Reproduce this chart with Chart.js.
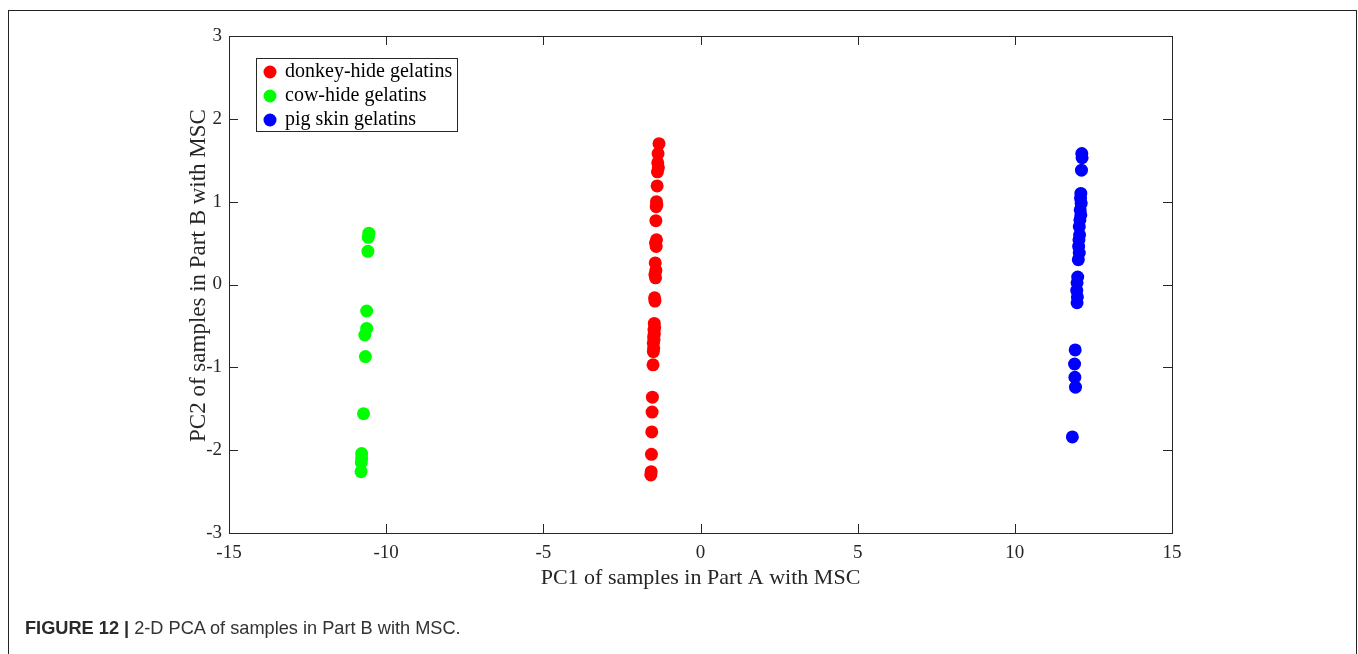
<!DOCTYPE html>
<html>
<head>
<meta charset="utf-8">
<script src="https://cdn.jsdelivr.net/npm/chart.js@4.4.0/dist/chart.umd.min.js"></script>
<style>
    body { margin: 0; background: #fff; }
    #wrap { position: relative; width: 1358px; height: 654px; overflow: hidden; }
    #frame {
        position: absolute; left: 8px; top: 10px; width: 1349px; height: 700px;
        border: 1px solid #222; border-bottom: none; box-sizing: border-box;
        pointer-events: none;
    }
    #caption {
        position: absolute; left: 25px; top: 618px;
        font-family: "Liberation Sans", Arial, sans-serif; font-size: 18.2px; color: #333;
        white-space: nowrap;
    }
    #caption b { color: #2a2a2a; }
    canvas { position: absolute; left: 0; top: 0; }
</style>
</head>
<body>
<div id="wrap">
    <canvas id="grafico" width="1358" height="654"></canvas>
    <div id="frame"></div>
    <div id="caption"><b>FIGURE 12 |</b> 2-D PCA of samples in Part B with MSC.</div>
</div>
<script>
// datos
const etiquetas = ['donkey-hide gelatins', 'cow-hide gelatins', 'pig skin gelatins']
const colores = ['#ff0000', '#00ff00', '#0000ff']

const burroX = [-1.32, -1.35, -1.36, -1.34, -1.37, -1.38, -1.40, -1.39, -1.41, -1.42, -1.40, -1.43, -1.41, -1.44, -1.42, -1.45, -1.43, -1.46, -1.45, -1.47, -1.46, -1.48, -1.47, -1.49, -1.48, -1.50, -1.49, -1.50, -1.51, -1.53, -1.54, -1.55, -1.56, -1.57, -1.58]
const burroY = [1.70, 1.58, 1.47, 1.41, 1.36, 1.19, 1.00, 0.96, 0.94, 0.77, 0.54, 0.50, 0.46, 0.26, 0.17, 0.12, 0.08, -0.16, -0.20, -0.47, -0.52, -0.55, -0.60, -0.63, -0.67, -0.71, -0.77, -0.81, -0.97, -1.36, -1.54, -1.78, -2.05, -2.26, -2.30]

const vacaX = [-10.55, -10.57, -10.58, -10.62, -10.62, -10.68, -10.66, -10.72, -10.78, -10.78, -10.79, -10.80]
const vacaY = [0.62, 0.57, 0.40, -0.32, -0.53, -0.61, -0.87, -1.56, -2.04, -2.10, -2.15, -2.26]

const cerdoX = [12.13, 12.14, 12.12, 12.10, 12.09, 12.11, 12.08, 12.10, 12.07, 12.05, 12.06, 12.04, 12.03, 12.05, 12.02, 12.00, 11.98, 11.97, 11.99, 11.98, 11.92, 11.90, 11.91, 11.93, 11.83]
const cerdoY = [1.58, 1.53, 1.38, 1.10, 1.04, 0.98, 0.90, 0.84, 0.78, 0.70, 0.60, 0.54, 0.46, 0.38, 0.30, 0.09, 0.02, -0.07, -0.15, -0.22, -0.79, -0.96, -1.12, -1.24, -1.84]

const ticksX = [-15, -10, -5, 0, 5, 10, 15]
const ticksY = [-3, -2, -1, 0, 1, 2, 3]
const tituloY = 'PC2 of samples in Part B with MSC'

const juntar = (xs, ys) => xs.map((x, i) => ({ x: x, y: ys[i] }))

const serie = [juntar(burroX, burroY), juntar(vacaX, vacaY), juntar(cerdoX, cerdoY)]

const colorEje = '#262626'
const fuente = "'Liberation Serif', 'Times New Roman', serif"

// caja, marcas hacia dentro, titulo y y leyenda al estilo matlab
const cajaMatlab = {
    id: 'cajaMatlab',
    afterDatasetsDraw(chart) {
        const { ctx, chartArea: a, scales } = chart
        ctx.save()
        ctx.strokeStyle = colorEje
        ctx.lineWidth = 1
        ctx.strokeRect(a.left + 0.5, a.top + 0.5, a.right - a.left, a.bottom - a.top)
        ctx.beginPath()
        ticksX.forEach(v => {
            let px = Math.round(scales.x.getPixelForValue(v)) + 0.5
            ctx.moveTo(px, a.bottom); ctx.lineTo(px, a.bottom - 9)
            ctx.moveTo(px, a.top); ctx.lineTo(px, a.top + 9)
        })
        ticksY.forEach(v => {
            let py = Math.round(scales.y.getPixelForValue(v)) + 0.5
            ctx.moveTo(a.left, py); ctx.lineTo(a.left + 9, py)
            ctx.moveTo(a.right, py); ctx.lineTo(a.right - 9, py)
        })
        ctx.stroke()

        // titulo del eje y
        ctx.save()
        ctx.translate(205, (a.top + a.bottom) / 2 - 9)
        ctx.rotate(-Math.PI / 2)
        ctx.font = '23px ' + fuente
        ctx.fillStyle = colorEje
        ctx.textAlign = 'center'
        ctx.textBaseline = 'alphabetic'
        ctx.fillText(tituloY, 0, 0)
        ctx.restore()

        // leyenda
        let lx = 256, ly = 58, lw = 201, lh = 73
        ctx.fillStyle = '#fff'
        ctx.fillRect(lx, ly, lw, lh)
        ctx.strokeStyle = '#262626'
        ctx.strokeRect(lx + 0.5, ly + 0.5, lw, lh)
        ctx.font = '20px ' + fuente
        ctx.textBaseline = 'middle'
        chart.data.datasets.forEach((ds, i) => {
            let cy = 72 + i * 24
            ctx.fillStyle = ds.backgroundColor
            ctx.beginPath()
            ctx.arc(270, cy, 6.5, 0, Math.PI * 2)
            ctx.fill()
            ctx.fillStyle = '#000'
            ctx.fillText(ds.label, 285, cy)
        })
        ctx.restore()
    }
}

new Chart(document.getElementById('grafico'), {
    type: 'scatter',
    data: {
        datasets: serie.map((d, i) => ({
            label: etiquetas[i],
            data: d,
            backgroundColor: colores[i],
            borderWidth: 0,
            pointRadius: 6.5,
            pointHoverRadius: 6.5
        }))
    },
    options: {
        responsive: false,
        animation: false,
        layout: { padding: { left: 0, top: 36, right: 186, bottom: 0 } },
        plugins: { legend: { display: false }, tooltip: { enabled: false } },
        scales: {
            x: {
                type: 'linear', min: -15, max: 15,
                afterBuildTicks: s => { s.ticks = ticksX.map(v => ({ value: v })) },
                afterFit: s => { s.height = 654 - 533 },
                grid: { display: false, drawTicks: false },
                border: { display: false },
                ticks: { color: colorEje, padding: 9, font: { family: fuente, size: 19 } },
                title: {
                    display: true, text: 'PC1 of samples in Part A with MSC', color: colorEje,
                    font: { family: fuente, size: 22 }, padding: { top: 0, bottom: 63 }
                }
            },
            y: {
                type: 'linear', min: -3, max: 3,
                afterBuildTicks: s => { s.ticks = ticksY.map(v => ({ value: v })) },
                afterFit: s => { s.width = 229 },
                grid: { display: false, drawTicks: false },
                border: { display: false },
                ticks: { color: colorEje, padding: 7, font: { family: fuente, size: 19 } }
            }
        }
    },
    plugins: [cajaMatlab]
})
</script>
</body>
</html>
